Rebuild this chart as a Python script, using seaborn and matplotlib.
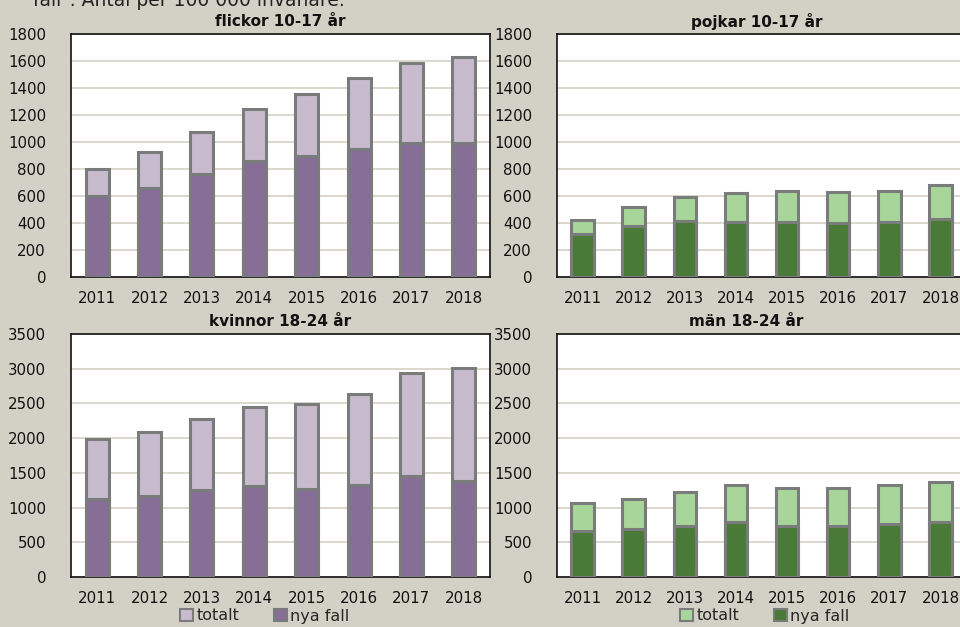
import matplotlib
matplotlib.use("Agg")
import matplotlib.pyplot as plt
import seaborn as sns
import pandas as pd
from matplotlib.patches import Patch

years = ["2011", "2012", "2013", "2014", "2015", "2016", "2017", "2018"]

flickor_totalt = [797, 923, 1076, 1242, 1353, 1472, 1583, 1630]
flickor_nya = [601, 656, 760, 858, 895, 947, 994, 994]
pojkar_totalt = [419, 518, 590, 619, 639, 627, 639, 679]
pojkar_nya = [317, 377, 416, 409, 409, 399, 409, 426]
kvinnor_totalt = [1994, 2095, 2282, 2455, 2498, 2633, 2939, 3012]
kvinnor_nya = [1130, 1167, 1249, 1311, 1264, 1321, 1455, 1379]
man_totalt = [1071, 1128, 1229, 1321, 1282, 1282, 1321, 1365]
man_nya = [667, 696, 739, 792, 739, 739, 764, 792]

titles = ["flickor 10-17 år", "pojkar 10-17 år", "kvinnor 18-24 år", "män 18-24 år"]
legend_labels = ["totalt", "nya fall"]
header = 'fall". Antal per 100 000 invånare.'

BG = "#D3D1C5"
PURPLE_L, PURPLE_D = "#C7BBCD", "#866E96"
GREEN_L, GREEN_D = "#A8D59A", "#4A7A37"
EDGE = "#7A7B7B"
GRID = "#D8D5C9"

sns.set_theme(style="white")
plt.rcParams["font.family"] = ["DejaVu Sans"]

W, H = 960, 627
fig = plt.figure(figsize=(9.6, 6.27), dpi=100, facecolor=BG)

def px_axes(x0, y0, x1, y1):
    return fig.add_axes([x0 / W, 1 - y1 / H, (x1 - x0) / W, (y1 - y0) / H])

panels = [
    (px_axes(71, 34, 490, 277), flickor_totalt, flickor_nya, PURPLE_L, PURPLE_D, 1800, 200),
    (px_axes(557, 34, 966, 277), pojkar_totalt, pojkar_nya, GREEN_L, GREEN_D, 1800, 200),
    (px_axes(71, 334, 490, 577), kvinnor_totalt, kvinnor_nya, PURPLE_L, PURPLE_D, 3500, 500),
    (px_axes(557, 334, 966, 577), man_totalt, man_nya, GREEN_L, GREEN_D, 3500, 500),
]

for ax, tot, nya, cl, cd, ymax, step in panels:
    df = pd.DataFrame({"year": years, "totalt": tot, "nya": nya})
    sns.barplot(data=df, x="year", y="totalt", ax=ax, color=cl, saturation=1,
                edgecolor=EDGE, linewidth=2.2, width=0.44, zorder=3)
    sns.barplot(data=df, x="year", y="nya", ax=ax, color=cd, saturation=1,
                edgecolor=EDGE, linewidth=2.2, width=0.44, zorder=4)
    ax.set_facecolor("white")
    ax.set_ylim(0, ymax)
    ax.set_xlim(-0.5, 7.5)
    ax.set_yticks(range(0, ymax + 1, step))
    ax.yaxis.grid(True, color=GRID, linewidth=1.3, zorder=0)
    ax.set_axisbelow(True)
    ax.set_xlabel("")
    ax.set_ylabel("")
    ax.tick_params(axis="both", length=0, labelsize=10.8, colors="#111111")
    ax.tick_params(axis="y", pad=18)
    ax.tick_params(axis="x", pad=10)
    for s in ax.spines.values():
        s.set_color("#111111")
        s.set_linewidth(1.2)
        s.set_visible(True)

tkw = dict(ha="center", va="center", fontsize=11, fontweight="bold", color="#111111")
fig.text(280 / W, 1 - 21 / H, titles[0], **tkw)
fig.text(757 / W, 1 - 21 / H, titles[1], **tkw)
fig.text(280 / W, 1 - 321 / H, titles[2], **tkw)
fig.text(746 / W, 1 - 321 / H, titles[3], **tkw)

fig.text(33 / W, 1 - 6 / H, header, ha="left", va="baseline", fontsize=13.5, color="#222222")

for cx, cl, cd in [(265, PURPLE_L, PURPLE_D), (765, GREEN_L, GREEN_D)]:
    handles = [Patch(facecolor=cl, edgecolor=EDGE, linewidth=1.5),
               Patch(facecolor=cd, edgecolor=EDGE, linewidth=1.5)]
    fig.legend(handles, legend_labels, loc="center", bbox_to_anchor=(cx / W, 1 - 616 / H),
               ncol=2, frameon=False, fontsize=11.5, handlelength=0.8, handleheight=0.8,
               handletextpad=0.2, columnspacing=2.2, borderpad=0)

fig.savefig("out.png", dpi=100, facecolor=BG)
